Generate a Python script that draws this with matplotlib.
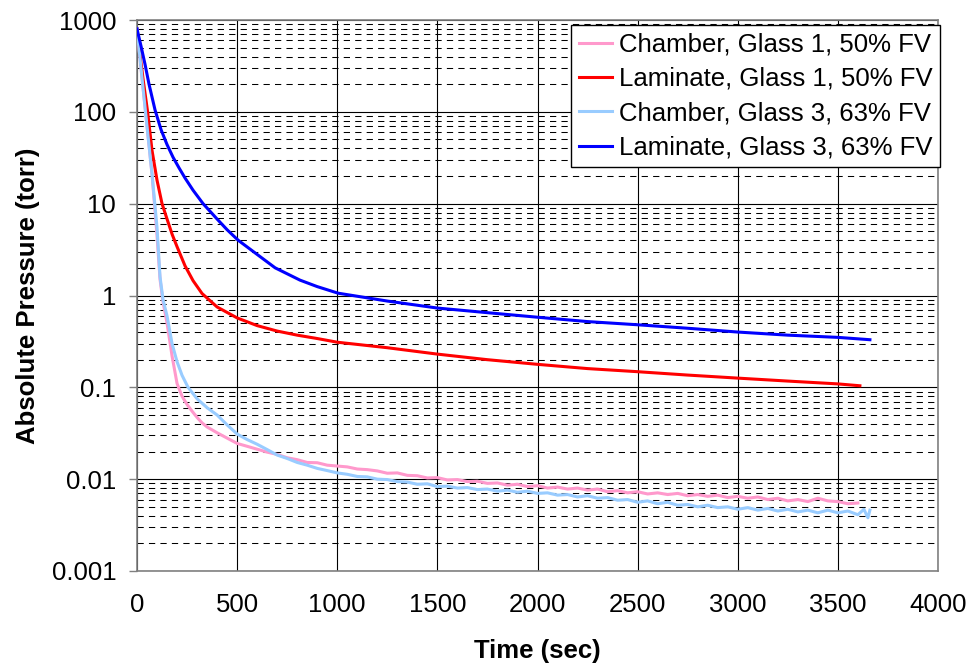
import matplotlib.pyplot as plt
from matplotlib.ticker import LogLocator, NullFormatter, FixedLocator

plt.rcParams['font.family'] = ['Liberation Sans', 'DejaVu Sans']

# --- data (time in sec, pressure in torr) ---
# Chamber, Glass 1, 50% FV
t_ch1 = [0, 25, 50, 75, 100, 115, 130, 150, 175, 200, 225, 250, 275, 300, 325, 350,
         400, 450, 500, 550, 600, 650,
         700, 750, 800, 850, 900, 950, 1000, 1050, 1100, 1150, 1200, 1250, 1300, 1350,
         1400, 1450, 1500, 1550, 1600, 1650, 1700, 1750, 1800, 1850, 1900, 1950, 2000,
         2050, 2100, 2150, 2200, 2250, 2300, 2350, 2400, 2450, 2500, 2550, 2600, 2650,
         2700, 2750, 2800, 2850, 2900, 2950, 3000, 3050, 3100, 3150, 3200, 3250, 3300,
         3350, 3400, 3450, 3500, 3550, 3600]
p_ch1 = [800, 235, 70, 21, 4.5, 1.5, 0.85, 0.5, 0.22, 0.11, 0.08, 0.065, 0.055, 0.047,
         0.041, 0.037, 0.032, 0.028, 0.0245, 0.0228, 0.0212, 0.0197,
         0.0186, 0.0171, 0.0163, 0.0152, 0.0151, 0.0142, 0.0139, 0.0136, 0.0129, 0.0127,
         0.0123, 0.0116, 0.0117, 0.0110, 0.0109, 0.0103, 0.0104, 0.0098, 0.0099, 0.0094,
         0.0095, 0.0090, 0.0091, 0.0086, 0.0088, 0.0083, 0.0085, 0.0080, 0.0082, 0.0078,
         0.0080, 0.0076, 0.0078, 0.0073, 0.0075, 0.0071, 0.0073, 0.0069, 0.0071, 0.0068,
         0.0070, 0.0066, 0.0068, 0.0065, 0.0067, 0.0063, 0.0065, 0.0062, 0.0064, 0.0060,
         0.0062, 0.0058, 0.0060, 0.0057, 0.0062, 0.0058, 0.0057, 0.0054, 0.0055]

# Laminate, Glass 1, 50% FV
t_lam1 = [0, 15, 30, 53, 75, 100, 125, 150, 176, 200, 240, 280, 325, 400, 500, 600, 700,
          800, 900, 1000, 1250, 1500, 1750, 2000, 2250, 2500, 2750, 3000, 3250, 3500, 3610]
p_lam1 = [800, 420, 230, 100, 38, 18, 10, 6.8, 4.6, 3.4, 2.1, 1.45, 1.05, 0.75, 0.57,
          0.47, 0.41, 0.37, 0.34, 0.31, 0.27, 0.23, 0.2, 0.178, 0.16, 0.148, 0.136,
          0.126, 0.117, 0.109, 0.104]

# Chamber, Glass 3, 63% FV
t_ch3 = [0, 25, 50, 75, 100, 115, 130, 150, 175, 200, 225, 255, 300, 350, 400, 450, 500,
         550, 600, 650,
         700, 750, 800, 850, 900, 950, 1000, 1050, 1100, 1150, 1200, 1250, 1300, 1350,
         1400, 1450, 1500, 1550, 1600, 1650, 1700, 1750, 1800, 1850, 1900, 1950, 2000,
         2050, 2100, 2150, 2200, 2250, 2300, 2350, 2400, 2450, 2500, 2550, 2600, 2650,
         2700, 2750, 2800, 2850, 2900, 2950, 3000, 3050, 3100, 3150, 3200, 3250, 3300,
         3350, 3400, 3450, 3500, 3550, 3600, 3630, 3650, 3660]
p_ch3 = [800, 235, 70, 21, 5.5, 1.6, 0.9, 0.6, 0.3, 0.19, 0.135, 0.1, 0.075, 0.06, 0.05,
         0.039, 0.031, 0.027, 0.024, 0.021,
         0.0183, 0.0168, 0.0152, 0.0142, 0.0131, 0.0124, 0.0117, 0.0113, 0.0107, 0.0106,
         0.0100, 0.0099, 0.0094, 0.0093, 0.0088, 0.0089, 0.0083, 0.0084, 0.0080, 0.0081,
         0.0077, 0.0078, 0.0074, 0.0076, 0.0072, 0.0074, 0.0070, 0.0071, 0.0067, 0.0068,
         0.0064, 0.0066, 0.0062, 0.0063, 0.0059, 0.0060, 0.0056, 0.0058, 0.0054, 0.0056,
         0.0052, 0.0053, 0.0050, 0.0052, 0.0049, 0.0050, 0.0047, 0.0049, 0.0046, 0.0048,
         0.0045, 0.0047, 0.0044, 0.0046, 0.0043, 0.0046, 0.0043, 0.0045, 0.0041, 0.0047,
         0.0038, 0.0046]

# Laminate, Glass 3, 63% FV
t_lam3 = [0, 20, 40, 60, 90, 120, 150, 180, 210, 240, 280, 330, 400, 450, 505, 600, 690,
          814, 900, 1004, 1250, 1500, 1750, 2000, 2250, 2500, 2750, 3000, 3250, 3500, 3660]
p_lam3 = [800, 520, 330, 200, 105, 64, 44, 32, 24.5, 19, 14, 10, 6.8, 5.2, 4.0, 2.8,
          2.0, 1.47, 1.25, 1.06, 0.87, 0.73, 0.65, 0.58, 0.52, 0.48, 0.44, 0.40, 0.37,
          0.35, 0.33]

labels = ['Chamber, Glass 1, 50% FV', 'Laminate, Glass 1, 50% FV',
          'Chamber, Glass 3, 63% FV', 'Laminate, Glass 3, 63% FV']
colors = ['#FF99CC', '#FF0000', '#99CCFF', '#0000FF']

x_ticks = [0, 500, 1000, 1500, 2000, 2500, 3000, 3500, 4000]
y_ticks = [0.001, 0.01, 0.1, 1, 10, 100, 1000]
y_tick_labels = ['0.001', '0.01', '0.1', '1', '10', '100', '1000']

fig = plt.figure(figsize=(9.72, 6.67), dpi=100)
ax = fig.add_axes([137 / 972, 1 - 571 / 667, (938 - 137) / 972, (571 - 20) / 667])

series = [(t_ch1, p_ch1), (t_lam1, p_lam1), (t_ch3, p_ch3), (t_lam3, p_lam3)]
for (t, p), lab, c in zip(series, labels, colors):
    ax.plot(t, p, color=c, lw=2.2, label=lab, zorder=3)

ax.set_yscale('log')
ax.set_xlim(0, 4000)
ax.set_ylim(0.001, 1000)

ax.xaxis.set_major_locator(FixedLocator(x_ticks))
ax.yaxis.set_major_locator(FixedLocator(y_ticks))
ax.set_yticklabels(y_tick_labels)
ax.yaxis.set_minor_locator(LogLocator(base=10, subs=range(2, 10)))
ax.yaxis.set_minor_formatter(NullFormatter())

# grid: solid major lines, dashed minor lines on the y axis
ax.grid(which='major', axis='both', color='black', lw=0.8, zorder=1)
ax.grid(which='minor', axis='y', color='black', lw=0.75, ls=(0, (6, 5)), zorder=1)
ax.set_axisbelow(True)

for s in ax.spines.values():
    s.set_color('#808080')
    s.set_linewidth(1.2)

ax.tick_params(axis='y', which='major', length=6, width=1, color='#808080',
               labelsize=18.5, pad=9)
ax.tick_params(axis='y', which='minor', length=0)
ax.tick_params(axis='x', length=0, labelsize=18.5, pad=16)

ax.set_xlabel('Time (sec)', fontsize=18.5, fontweight='bold', labelpad=16)
ax.set_ylabel('Absolute Pressure (torr)', fontsize=18.5, fontweight='bold', labelpad=8.5)

leg = ax.legend(loc='upper right', bbox_to_anchor=(940 / 972, 1 - 25 / 667),
                bbox_transform=fig.transFigure, borderaxespad=0, fontsize=18.5,
                frameon=True, fancybox=False, edgecolor='black', framealpha=1,
                handlelength=1.3, handletextpad=0.25, labelspacing=0.4,
                borderpad=0.3)
leg.get_frame().set_linewidth(1.0)

fig.savefig('out.png', dpi=100)
